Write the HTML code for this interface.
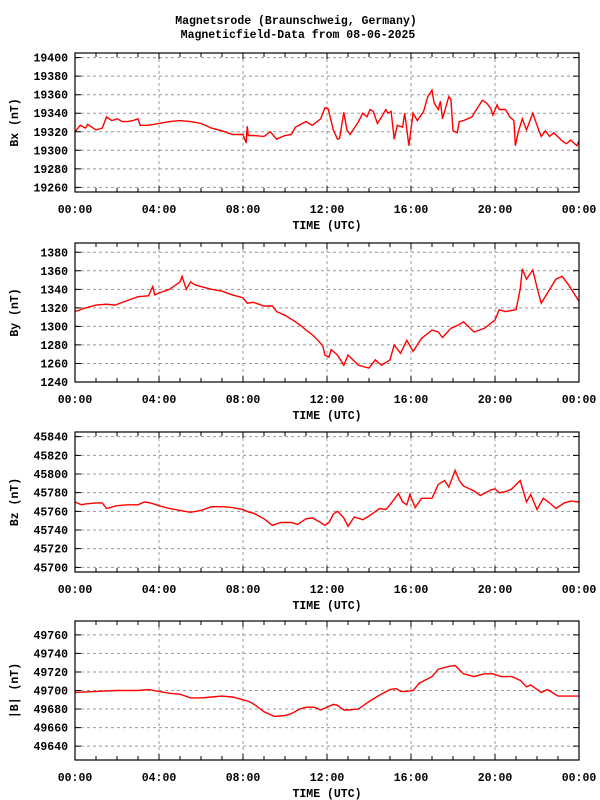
<!DOCTYPE html>
<html><head><meta charset="utf-8"><style>
html,body{margin:0;padding:0;background:#fff;}
svg{display:block;}
text{font-family:"Liberation Mono","DejaVu Sans Mono",monospace;font-weight:bold;font-size:11.5px;fill:#000;}
</style></head><body>
<svg id="chart" width="600" height="800" viewBox="0 0 600 800" xmlns="http://www.w3.org/2000/svg">
<text x="296" y="24" text-anchor="middle">Magnetsrode (Braunschweig, Germany)</text>
<text x="298" y="38" text-anchor="middle">Magneticfield-Data from 08-06-2025</text>
</svg>
<script>
const xTickLabels = ["00:00","04:00","08:00","12:00","16:00","20:00","00:00"];
const bxHours = [0,0.25,0.5,0.6,1,1.3,1.5,1.75,2,2.25,2.5,2.75,3,3.1,3.5,4,4.5,5,5.5,6,6.5,7,7.5,8,8.15,8.2,8.25,8.5,9,9.3,9.6,10,10.3,10.5,11,11.3,11.7,11.9,12.05,12.3,12.5,12.6,12.8,12.95,13.1,13.5,13.7,13.9,14.05,14.2,14.4,14.6,14.8,14.9,15.05,15.2,15.35,15.6,15.7,15.9,16.1,16.3,16.6,16.8,17,17.1,17.3,17.4,17.5,17.8,17.9,18,18.2,18.3,18.5,18.9,19.2,19.4,19.6,19.8,19.9,20.1,20.2,20.5,20.7,20.9,20.97,21.1,21.3,21.5,21.8,22,22.2,22.4,22.6,22.8,23.2,23.4,23.6,23.9,24];
const bxValues = [19320,19327,19324,19328,19322,19324,19336,19332,19334,19331,19331,19332,19334,19327,19327,19329,19331,19332,19331,19329,19324,19321,19317,19317,19308,19326,19316,19316,19315,19320,19312,19316,19317,19325,19331,19327,19334,19346,19345,19322,19312,19313,19341,19322,19317,19331,19340,19336,19344,19342,19329,19336,19344,19340,19342,19312,19327,19325,19340,19305,19340,19332,19342,19358,19365,19351,19344,19353,19334,19358,19355,19321,19319,19331,19332,19336,19347,19354,19351,19345,19338,19349,19344,19344,19336,19332,19305,19319,19334,19322,19340,19327,19315,19321,19315,19319,19310,19307,19311,19305,19310];
const byHours = [0,0.5,1,1.5,1.9,2.5,3,3.5,3.7,3.8,4,4.5,5,5.1,5.3,5.5,5.7,6,6.5,7,7.5,8,8.2,8.5,9,9.4,9.6,10,10.5,10.8,11,11.3,11.6,11.8,11.9,12.1,12.2,12.5,12.8,13,13.5,14,14.3,14.6,15,15.2,15.5,15.8,16.1,16.5,17,17.3,17.5,17.9,18.3,18.5,19,19.5,20,20.2,20.5,21,21.2,21.3,21.5,21.8,22,22.2,22.5,22.9,23.2,23.5,24];
const byValues = [1316,1320,1323,1324,1323,1328,1332,1333,1343,1334,1336,1340,1348,1354,1340,1348,1345,1343,1340,1338,1334,1331,1325,1326,1322,1322,1316,1312,1305,1300,1296,1291,1284,1279,1269,1267,1275,1269,1258,1269,1258,1255,1264,1258,1264,1280,1271,1285,1273,1287,1296,1294,1288,1298,1302,1305,1294,1298,1307,1318,1316,1318,1340,1362,1351,1361,1342,1325,1336,1351,1354,1345,1327];
const bzHours = [0,0.3,0.5,1,1.3,1.5,2,2.5,3,3.3,3.6,4,4.5,5,5.5,6,6.5,7,7.5,8,8.3,8.5,9,9.4,9.8,10.3,10.6,11,11.3,11.7,11.9,12.1,12.3,12.5,12.8,13,13.3,13.7,14,14.2,14.5,14.8,15,15.4,15.6,15.8,15.95,16.2,16.5,17,17.3,17.6,17.8,18.1,18.3,18.5,19,19.3,19.8,20,20.2,20.5,20.8,21.2,21.5,21.7,22,22.3,22.6,22.9,23.3,23.6,24];
const bzValues = [45770,45767,45768,45769,45769,45763,45766,45767,45767,45770,45769,45766,45763,45761,45759,45761,45765,45765,45764,45762,45759,45758,45752,45745,45748,45748,45746,45752,45753,45748,45745,45748,45757,45760,45753,45744,45754,45751,45755,45758,45763,45762,45767,45779,45770,45767,45778,45764,45774,45774,45789,45793,45786,45804,45793,45787,45782,45777,45783,45784,45780,45781,45784,45793,45770,45778,45762,45774,45769,45763,45769,45771,45770];
const bfHours = [0,1,2,3,3.5,4,4.5,5,5.5,6,6.5,7,7.5,8,8.3,8.6,9,9.5,10,10.3,10.7,11,11.4,11.7,12,12.3,12.5,12.8,13,13.5,14,14.5,15,15.3,15.5,15.8,16.1,16.4,17,17.3,17.8,18.1,18.5,19,19.5,19.9,20.3,20.8,21.2,21.5,21.7,22.2,22.5,23,23.3,24];
const bfValues = [49698,49699,49700,49700,49701,49699,49697,49696,49692,49692,49693,49694,49693,49690,49688,49684,49677,49672,49673,49675,49680,49682,49682,49679,49682,49685,49684,49679,49679,49680,49688,49695,49701,49702,49699,49699,49700,49708,49715,49723,49726,49727,49718,49715,49718,49718,49715,49715,49711,49704,49706,49698,49701,49694,49694,49694];
const bxTicks = [19260,19280,19300,19320,19340,19360,19380,19400];
const byTicks = [1240,1260,1280,1300,1320,1340,1360,1380];
const bzTicks = [45700,45720,45740,45760,45780,45800,45820,45840];
const bfTicks = [49640,49660,49680,49700,49720,49740,49760];

const panels = [
 {name:"bx",label:"Bx (nT)",top:53,bottom:192,vmin:19255,vmax:19405,hours:bxHours,values:bxValues,ticks:bxTicks},
 {name:"by",label:"By (nT)",top:243,bottom:382,vmin:1240,vmax:1390,hours:byHours,values:byValues,ticks:byTicks},
 {name:"bz",label:"Bz (nT)",top:432,bottom:572,vmin:45695,vmax:45845,hours:bzHours,values:bzValues,ticks:bzTicks},
 {name:"bf",label:"|B| (nT)",top:621,bottom:760,vmin:49625,vmax:49775,hours:bfHours,values:bfValues,ticks:bfTicks}
];
const X0=75, X1=579;
const svg=document.getElementById('chart');
const NS="http://www.w3.org/2000/svg";
function mk(tag,attrs){const e=document.createElementNS(NS,tag);for(const k in attrs)e.setAttribute(k,attrs[k]);svg.appendChild(e);return e;}
function xScale(h){return X0+(X1-X0)*h/24;}
panels.forEach(p=>{
  const yScale=v=>p.bottom-(v-p.vmin)*(p.bottom-p.top)/(p.vmax-p.vmin);
  // grid
  for(let i=1;i<6;i++){
    const x=xScale(i*4);
    const g=mk('line',{x1:x,x2:x,y1:p.top,y2:p.bottom,stroke:'#999','stroke-dasharray':'3,3','stroke-width':1});
    
    
  }
  p.ticks.forEach(t=>{
    const y=yScale(t);
    const g=mk('line',{x1:X0,x2:X1,y1:y,y2:y,stroke:'#999','stroke-dasharray':'3,3','stroke-width':1});
    
    
    const tk=mk('path',{d:`M${X0} ${y}h6M${X1} ${y}h-6`,stroke:'#000','stroke-width':1});
    
    
    const lb=mk('text',{x:68,y:y+4,'text-anchor':'end'});
    lb.textContent=t;
    
    
  });
  for(let h=0;h<=24;h++){
    const x=xScale(h);const len=(h%4===0)?6:4;
    const tk=mk('path',{d:`M${x} ${p.bottom}v-${len}M${x} ${p.top}v${len}`,stroke:'#000','stroke-width':1});
    
    
  }
  xTickLabels.forEach((l,i)=>{
    const lb=mk('text',{x:xScale(i*4),y:p.bottom+21,'text-anchor':'middle'});
    lb.textContent=l;
    
    
  });
  const xt=mk('text',{x:327,y:p.bottom+37,'text-anchor':'middle'});
  xt.textContent="TIME (UTC)";
  
  
  const cy=(p.top+p.bottom)/2;
  const yt=mk('text',{x:18,y:cy,'text-anchor':'middle',transform:`rotate(-90 18 ${cy})`});
  yt.textContent=p.label;
  
  
  const d=p.hours.map((h,i)=>(i?'L':'M')+xScale(h).toFixed(1)+' '+yScale(p.values[i]).toFixed(1)).join('');
  const ln=mk('path',{d:d,fill:'none',stroke:'#f00','stroke-width':1.4,'stroke-linejoin':'miter'});
  
  
  const fr=mk('rect',{x:X0,y:p.top,width:X1-X0,height:p.bottom-p.top,fill:'none',stroke:'#000','stroke-width':1.2});
  
  
});
</script>
</body></html>
